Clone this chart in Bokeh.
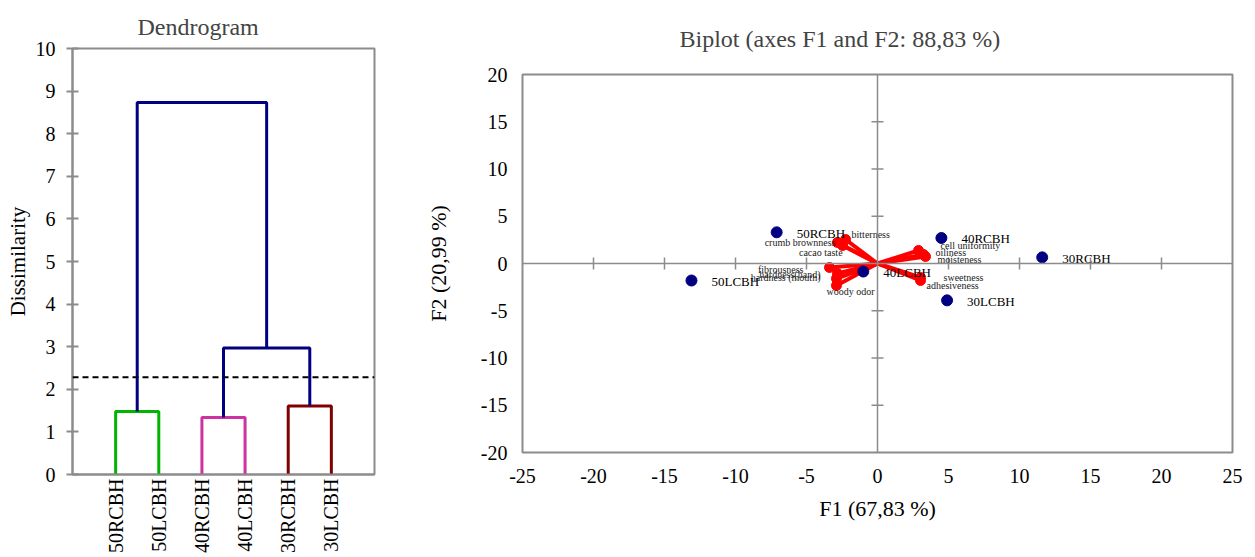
import math
from bokeh.plotting import figure
from bokeh.models import Range1d, FixedTicker, Span, ColumnDataSource
from bokeh.layouts import row, column
from bokeh.embed import file_html
from bokeh.resources import INLINE

# ---------------- data ----------------
leaves = ["50RCBH", "50LCBH", "40RCBH", "40LCBH", "30RCBH", "30LCBH"]
pair_heights = [1.48, 1.34, 1.61]
pair_colors = ["#00B400", "#CC33A0", "#800000"]
merge_40_30 = 2.97
merge_top = 8.73
cut_level = 2.28
dendro_yticks = list(range(0, 11))

obs_names = ["50RCBH", "50LCBH", "40RCBH", "30RCBH", "40LCBH", "30LCBH"]
obs_f1 = [-7.1, -13.1, 4.5, 11.6, -1.0, 4.9]
obs_f2 = [3.3, -1.8, 2.7, 0.65, -0.85, -3.9]

var_names = ["bitterness", "crumb brownness", "cacao taste", "cell uniformity",
             "oiliness", "moisteness", "fibrousness", "hardness(hand)",
             "hardness (mouth)", "woody odor", "sweetness", "adhesiveness"]
var_f1 = [-2.25, -2.82, -2.46, 2.89, 3.24, 3.38, -3.38, -2.82, -2.89, -2.89, 3.03, 3.03]
var_f2 = [2.54, 2.22, 1.90, 1.38, 0.95, 0.74, -0.42, -1.06, -1.59, -2.33, -1.48, -1.80]

bi_xticks = list(range(-25, 30, 5))
bi_yticks = list(range(-20, 25, 5))

# ---------------- layout / style ----------------
FONT = "Liberation Serif"
GRAY = "#8c8c8c"
NAVY = "#000080"
var_dx = [6, -2, 0, 22, 12, 12, -26, -17, -16, -10, 23, 6]
var_dy = [-5, 0, 7, -5, -2, 3, 2, 1, -1, 6, 0, 5]
var_align = ["left", "right", "right", "left", "left", "left",
             "right", "right", "right", "left", "left", "left"]


def style_axis(ax, tick_px, label_px):
    ax.major_label_text_font = FONT
    ax.major_label_text_font_size = tick_px
    ax.major_label_text_color = "black"
    ax.axis_label_text_font = FONT
    ax.axis_label_text_font_size = label_px
    ax.axis_label_text_font_style = "normal"
    ax.axis_label_text_color = "black"
    ax.minor_tick_line_color = None


# ---------------- dendrogram ----------------
p1 = figure(width=408, height=557, output_backend="svg", toolbar_location=None,
            x_range=Range1d(0, 7), y_range=Range1d(0, 10),
            min_border_left=72, min_border_right=34, min_border_top=48,
            min_border_bottom=83)
p1.title.text = "Dendrogram"
p1.title.text_font = FONT
p1.title.text_font_size = "24px"
p1.title.text_font_style = "normal"
p1.title.align = "left"
p1.title.offset = 65
p1.title.standoff = 18

pos = [i + 1 for i in range(len(leaves))]
xs, ys, cols = [], [], []
centers = []
for i, h in enumerate(pair_heights):
    a, b = pos[2 * i], pos[2 * i + 1]
    xs.append([a, a, b, b]); ys.append([0, h, h, 0]); cols.append(pair_colors[i])
    centers.append((a + b) / 2)
c23 = (centers[1] + centers[2]) / 2
xs.append([centers[1], centers[1], centers[2], centers[2]])
ys.append([pair_heights[1], merge_40_30, merge_40_30, pair_heights[2]])
cols.append(NAVY)
xs.append([centers[0], centers[0], c23, c23])
ys.append([pair_heights[0], merge_top, merge_top, merge_40_30])
cols.append(NAVY)
p1.multi_line(xs=xs, ys=ys, line_color=cols, line_width=3)
p1.add_layout(Span(location=cut_level, dimension="width", line_color="black",
                   line_width=2, line_dash="6 4"))

p1.xgrid.visible = False
p1.ygrid.visible = False
p1.outline_line_color = GRAY
p1.outline_line_width = 2
p1.xaxis.ticker = FixedTicker(ticks=pos)
p1.xaxis.major_label_overrides = {p: n for p, n in zip(pos, leaves)}
p1.xaxis.major_label_orientation = math.pi / 2
p1.xaxis.major_tick_line_color = None
p1.xaxis.major_tick_out = 0
p1.xaxis.major_tick_in = 0
p1.xaxis.major_label_standoff = 4
p1.yaxis.ticker = FixedTicker(ticks=dendro_yticks)
p1.yaxis.major_label_overrides = {t: str(t) for t in dendro_yticks}
p1.yaxis.major_tick_in = 6
p1.yaxis.major_tick_out = 6
p1.yaxis.major_tick_line_color = GRAY
p1.yaxis.major_tick_line_width = 2
p1.yaxis.major_label_standoff = 11
p1.yaxis.axis_label = "Dissimilarity"
p1.yaxis.axis_label_standoff = 3
for ax in (p1.xaxis, p1.yaxis):
    ax.axis_line_color = GRAY
    ax.axis_line_width = 2
    style_axis(ax, "20px", "21px")

# ---------------- biplot ----------------
p2 = figure(width=836, height=557, output_backend="svg", toolbar_location=None,
            x_range=Range1d(-25, 25), y_range=Range1d(-20, 20),
            min_border_left=114, min_border_right=12, min_border_top=74,
            min_border_bottom=105)
p2.title.text = "Biplot (axes F1 and F2: 88,83 %)"
p2.title.text_font = FONT
p2.title.text_font_size = "24px"
p2.title.text_font_style = "normal"
p2.title.align = "left"
p2.title.offset = 157
p2.title.standoff = 46
p2.xgrid.visible = False
p2.ygrid.visible = False
p2.outline_line_color = GRAY
p2.outline_line_width = 2

p2.add_layout(Span(location=0, dimension="width", line_color=GRAY, line_width=1.5))
p2.add_layout(Span(location=0, dimension="height", line_color=GRAY, line_width=1.5))
tx = [t for t in bi_xticks if t not in (0, bi_xticks[0], bi_xticks[-1])]
ty = [t for t in bi_yticks if t not in (0, bi_yticks[0], bi_yticks[-1])]
p2.scatter(x=tx, y=[0] * len(tx), marker="dash", angle=math.pi / 2, size=12,
           line_color=GRAY, line_width=1.5)
p2.scatter(x=[0] * len(ty), y=ty, marker="dash", angle=0, size=12,
           line_color=GRAY, line_width=1.5)

p2.segment(x0=[0] * len(var_f1), y0=[0] * len(var_f1), x1=var_f1, y1=var_f2,
           line_color="#FF0000", line_width=4)
p2.scatter(x=var_f1, y=var_f2, size=10, fill_color="#FF0000", line_color="#FF0000")

var_src = ColumnDataSource(dict(x=var_f1, y=var_f2, t=var_names, dx=var_dx,
                                dy=var_dy, al=var_align))
p2.text(x="x", y="y", text="t", x_offset="dx", y_offset="dy", text_align="al",
        source=var_src, text_baseline="middle", text_font={"value": FONT},
        text_font_size={"value": "10px"}, text_color="#222222")

p2.scatter(x=obs_f1, y=obs_f2, size=11, fill_color=NAVY, line_color=NAVY)
p2.text(x=obs_f1, y=obs_f2, text=obs_names, x_offset=20, y_offset=1,
        text_baseline="middle", text_align="left", text_font={"value": FONT},
        text_font_size={"value": "13px"}, text_color="black")

p2.xaxis.ticker = FixedTicker(ticks=bi_xticks)
p2.yaxis.ticker = FixedTicker(ticks=bi_yticks)
p2.xaxis.major_label_overrides = {t: str(t) for t in bi_xticks}
p2.yaxis.major_label_overrides = {t: str(t) for t in bi_yticks}
p2.xaxis.axis_label = "F1 (67,83 %)"
p2.yaxis.axis_label = "F2 (20,99 %)"
p2.xaxis.major_label_standoff = 16
p2.yaxis.major_label_standoff = 15
p2.xaxis.axis_label_standoff = 10
p2.yaxis.axis_label_standoff = 27
for ax in (p2.xaxis, p2.yaxis):
    ax.axis_line_color = None
    ax.major_tick_line_color = None
    ax.major_tick_out = 0
    ax.major_tick_in = 0
    style_axis(ax, "20px", "22px")

layout = row(column(p1), column(p2))
open("out.html", "w").write(file_html(layout, INLINE))
